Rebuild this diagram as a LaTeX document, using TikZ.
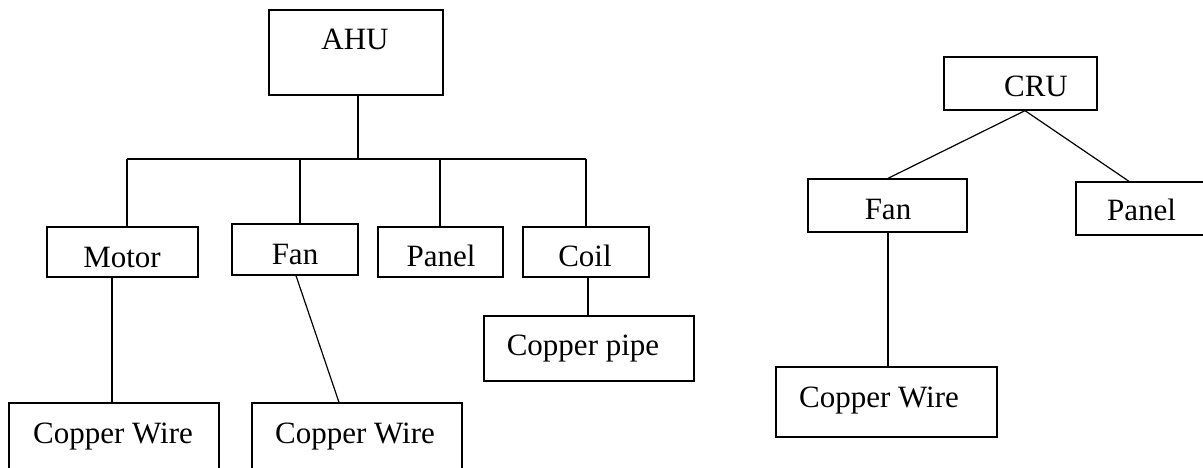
\documentclass[tikz,border=0pt]{standalone}
\usepackage{fontspec}
\setmainfont{Liberation Serif}
\begin{document}
\begin{tikzpicture}[x=1pt,y=-1pt,
  box/.style={draw, line width=1.3pt, inner sep=0pt},
  lbl/.style={anchor=base, inner sep=0pt, font=\fontsize{31}{36}\selectfont},
  conn/.style={line width=1.2pt}]
\useasboundingbox (0,0) rectangle (1203,468);
% ---- AHU tree boxes
\node[box, minimum width=174pt, minimum height=85pt] (ahu)    at (356,52.5) {};
\node[box, minimum width=151pt, minimum height=50pt] (motor)  at (122.5,252) {};
\node[box, minimum width=126pt, minimum height=51pt] (fanL)   at (295,249.5) {};
\node[box, minimum width=125pt, minimum height=50pt] (panelL) at (440.5,252) {};
\node[box, minimum width=126pt, minimum height=50pt] (coil)   at (586,252) {};
\node[box, minimum width=210pt, minimum height=66pt] (cw1)    at (114,436) {};
\node[box, minimum width=210pt, minimum height=66pt] (cw2)    at (357,436) {};
\node[box, minimum width=210pt, minimum height=65pt] (pipe)   at (589,348.5) {};
% ---- CRU tree boxes
\node[box, minimum width=153pt, minimum height=53pt] (cru)    at (1020.5,83.5) {};
\node[box, minimum width=159pt, minimum height=53pt] (fanR)   at (887.5,205.5) {};
\node[box, minimum width=130pt, minimum height=53pt] (panelR) at (1141,208.5) {};
\node[box, minimum width=221pt, minimum height=70pt] (cw3)    at (886.5,402) {};
% ---- texts
\node[lbl] (tahu)    at (355,50)    {AHU};
\node[lbl] (tmotor)  at (122,267)   {Motor};
\node[lbl] (tfanL)   at (295,264)   {Fan};
\node[lbl] (tpanelL) at (441,266)   {Panel};
\node[lbl] (tcoil)   at (585,266)   {Coil};
\node[lbl] (tcw1)    at (113,443)   {Copper Wire};
\node[lbl] (tcw2)    at (355,443)   {Copper Wire};
\node[lbl] (tpipe)   at (583,355)   {Copper pipe};
\node[lbl] (tcru)    at (1036,97)   {CRU};
\node[lbl] (tfanR)   at (888,219)   {Fan};
\node[lbl] (tpanelR) at (1141.5,221) {Panel};
\node[lbl] (tcw3)    at (879,407)   {Copper Wire};
% ---- AHU connectors
\coordinate (d1) at (127,159);
\coordinate (d2) at (300,159);
\coordinate (d3) at (440,159);
\coordinate (d4) at (586,159);
\coordinate (m1) at (112,0);
\draw[conn] ([xshift=2pt]ahu.south) -- ([xshift=2pt]ahu.south |- d1);
\draw[conn] (d1) -- (d4);
\draw[conn] (d1) -- (d1 |- motor.north);
\draw[conn] (d2) -- (d2 |- fanL.north);
\draw[conn] (d3) -- (d3 |- panelL.north);
\draw[conn] (d4) -- (d4 |- coil.north);
\draw[conn] (motor.south -| m1) -- (cw1.north -| m1);
\draw[conn] ([xshift=1pt]fanL.south) -- ([xshift=-18pt]cw2.north);
\draw[conn] ([xshift=2pt]coil.south) -- ([xshift=2pt]coil.south |- pipe.north);
% ---- CRU connectors
\draw[conn] ([xshift=4.5pt]cru.south) -- ([xshift=0.5pt]fanR.north);
\draw[conn] ([xshift=4.5pt]cru.south) -- ([xshift=-12pt]panelR.north);
\draw[conn] ([xshift=0.5pt]fanR.south) -- ([xshift=0.5pt]fanR.south |- cw3.north);
\end{tikzpicture}
\end{document}
